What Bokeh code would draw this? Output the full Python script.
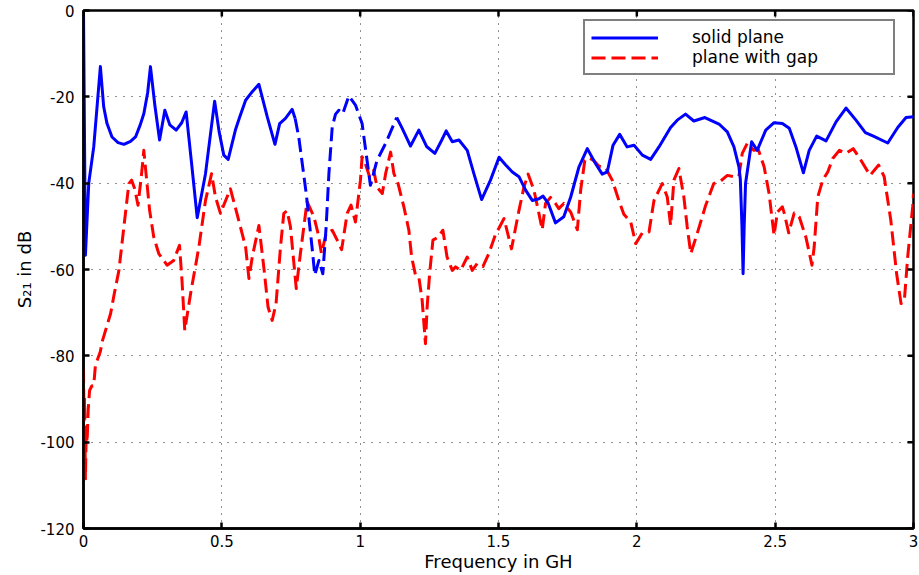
import numpy as np
from bokeh.plotting import figure
from bokeh.models import Range1d, FixedTicker, Legend, LegendItem
from bokeh.embed import file_html
from bokeh.resources import INLINE

# ---------------- data ----------------
freq_solid = [0.000, 0.007, 0.019, 0.037, 0.061, 0.073, 0.085, 0.103, 0.125, 0.146, 0.170, 0.188,
              0.205, 0.218, 0.232, 0.242, 0.258, 0.275, 0.294, 0.312, 0.335, 0.355, 0.371, 0.390,
              0.411, 0.441, 0.474, 0.490, 0.507, 0.523, 0.549, 0.564, 0.586, 0.610, 0.634, 0.664,
              0.692, 0.709, 0.730, 0.754, 0.765, 0.778, 0.805, 0.826, 0.836, 0.851, 0.865, 0.877,
              0.887, 0.899, 0.911, 0.923, 0.937, 0.959, 0.983, 1.007, 1.037, 1.061, 1.092, 1.132,
              1.152, 1.182, 1.212, 1.240, 1.270, 1.295, 1.311, 1.333, 1.357, 1.387, 1.411, 1.439,
              1.471, 1.502, 1.526, 1.550, 1.574, 1.598, 1.622, 1.646, 1.661, 1.680, 1.706, 1.736,
              1.761, 1.791, 1.821, 1.851, 1.875, 1.893, 1.914, 1.938, 1.965, 1.990, 2.020, 2.050,
              2.080, 2.122, 2.146, 2.176, 2.206, 2.246, 2.297, 2.327, 2.351, 2.369, 2.374, 2.380,
              2.384, 2.388, 2.393, 2.415, 2.435, 2.466, 2.496, 2.526, 2.551, 2.575, 2.602, 2.623,
              2.650, 2.684, 2.720, 2.756, 2.792, 2.826, 2.855, 2.907, 2.943, 2.973, 3.000]
s21_solid = [0.0, -56.7, -40.0, -31.6, -13.0, -22.3, -26.2, -29.3, -30.6, -31.0, -30.3, -29.3,
             -26.5, -23.9, -19.0, -13.0, -22.0, -30.0, -23.1, -26.5, -27.7, -26.0, -23.5, -35.0,
             -48.0, -37.8, -21.0, -28.0, -33.5, -34.5, -27.7, -24.8, -20.8, -18.8, -17.1, -24.6,
             -31.0, -26.2, -25.0, -22.9, -25.0, -29.3, -42.4, -54.8, -61.3, -57.9, -61.0, -50.1,
             -37.8, -27.0, -24.0, -23.1, -23.9, -19.8, -21.9, -26.2, -40.5, -34.7, -30.8, -24.8,
             -27.3, -31.4, -27.7, -31.5, -33.1, -30.0, -27.9, -30.4, -30.0, -32.4, -37.8, -43.8,
             -39.3, -34.0, -35.8, -37.4, -38.5, -41.6, -44.0, -43.6, -43.0, -44.7, -49.2, -47.8,
             -43.2, -36.2, -32.0, -35.5, -37.9, -37.4, -31.2, -28.7, -31.6, -31.2, -33.5, -34.5,
             -31.6, -27.1, -25.4, -24.0, -25.6, -24.8, -26.3, -28.1, -31.6, -36.2, -39.0, -50.0,
             -61.0, -50.0, -40.0, -30.4, -32.4, -27.7, -26.0, -26.2, -27.3, -31.6, -37.6, -32.4,
             -29.1, -30.2, -25.8, -22.6, -25.4, -28.3, -29.1, -30.7, -27.1, -24.8, -24.6]

freq_gap = [0.000, 0.002, 0.004, 0.007, 0.010, 0.013, 0.017, 0.022, 0.030, 0.037, 0.043, 0.061,
            0.067, 0.085, 0.098, 0.110, 0.128, 0.146, 0.164, 0.174, 0.185, 0.197, 0.210, 0.218,
            0.226, 0.239, 0.254, 0.272, 0.302, 0.326, 0.347, 0.356, 0.366, 0.387, 0.417, 0.441,
            0.463, 0.477, 0.495, 0.531, 0.561, 0.586, 0.598, 0.610, 0.634, 0.653, 0.667, 0.682,
            0.696, 0.712, 0.724, 0.736, 0.748, 0.769, 0.784, 0.808, 0.833, 0.848, 0.860, 0.877,
            0.899, 0.917, 0.933, 0.953, 0.967, 0.983, 1.001, 1.007, 1.019, 1.034, 1.049, 1.061,
            1.080, 1.092, 1.110, 1.122, 1.137, 1.158, 1.176, 1.186, 1.200, 1.212, 1.224, 1.236,
            1.242, 1.251, 1.263, 1.282, 1.299, 1.314, 1.333, 1.345, 1.363, 1.387, 1.405, 1.423,
            1.444, 1.465, 1.490, 1.501, 1.520, 1.547, 1.574, 1.592, 1.607, 1.628, 1.646, 1.658,
            1.670, 1.688, 1.706, 1.718, 1.736, 1.761, 1.785, 1.797, 1.812, 1.827, 1.845, 1.863,
            1.887, 1.911, 1.935, 1.953, 1.978, 1.996, 2.020, 2.044, 2.062, 2.092, 2.110, 2.122,
            2.134, 2.152, 2.170, 2.182, 2.195, 2.218, 2.249, 2.278, 2.303, 2.327, 2.351, 2.369,
            2.381, 2.399, 2.423, 2.439, 2.460, 2.478, 2.496, 2.508, 2.526, 2.533, 2.549, 2.569,
            2.587, 2.611, 2.633, 2.641, 2.654, 2.672, 2.690, 2.708, 2.732, 2.756, 2.782, 2.810,
            2.843, 2.874, 2.894, 2.918, 2.939, 2.955, 2.967, 2.979, 2.997, 3.000]
s21_gap = [-83.0, -95.0, -90.0, -108.5, -97.0, -100.0, -92.5, -88.0, -87.0, -86.9, -82.2, -79.0,
           -76.8, -73.0, -70.2, -66.0, -60.2, -50.1, -40.1, -39.3, -41.3, -45.1, -37.8, -32.4,
           -37.8, -46.3, -52.5, -56.3, -59.0, -57.9, -54.4, -62.5, -74.1, -65.6, -54.8, -44.0,
           -37.8, -43.2, -47.0, -41.3, -48.6, -54.8, -62.1, -57.1, -49.8, -60.2, -68.7, -71.8,
           -67.9, -54.8, -47.0, -46.4, -50.1, -64.4, -56.3, -44.3, -47.8, -51.7, -56.3, -51.7,
           -50.9, -53.2, -55.4, -47.0, -45.1, -49.0, -39.3, -33.9, -35.5, -38.5, -37.0, -40.9,
           -42.4, -37.8, -32.8, -37.8, -40.1, -45.5, -50.9, -57.1, -61.3, -61.7, -67.1, -77.2,
           -68.7, -61.0, -53.2, -52.5, -50.9, -57.1, -60.2, -59.4, -60.2, -57.1, -60.2, -58.6,
           -59.3, -56.3, -51.7, -50.5, -48.2, -55.2, -46.3, -40.9, -37.9, -41.6, -47.0, -50.8,
           -44.7, -43.3, -44.7, -45.9, -44.7, -46.7, -50.8, -41.6, -34.7, -34.1, -34.8, -36.1,
           -36.4, -39.3, -44.0, -47.2, -49.0, -54.0, -51.5, -51.3, -44.0, -40.1, -43.2, -49.8,
           -39.3, -36.6, -43.2, -50.1, -56.3, -51.7, -45.1, -40.1, -39.5, -38.2, -38.5, -38.4,
           -33.1, -30.8, -32.4, -32.2, -36.2, -42.4, -52.1, -46.7, -45.5, -47.0, -51.5, -46.9,
           -47.8, -52.5, -59.0, -54.8, -43.2, -39.3, -37.4, -34.3, -32.4, -33.1, -32.0, -34.7,
           -38.2, -35.8, -38.5, -48.6, -61.0, -67.9, -67.1, -57.1, -45.5, -42.4]

# frequency span where the solid-plane trace is drawn dashed in the reference
solid_dashed_span = [0.765, 1.132]

x_ticks = [0, 0.5, 1, 1.5, 2, 2.5, 3]
x_tick_labels = ["0", "0.5", "1", "1.5", "2", "2.5", "3"]
y_ticks = [-120, -100, -80, -60, -40, -20, 0]
y_tick_labels = ["-120", "-100", "-80", "-60", "-40", "-20", "0"]

series_labels = ["solid plane", "plane with gap"]
x_label = "Frequency in GH"
y_label = "S\u2082\u2081 in dB"

# ---------------- figure ----------------
FONT = "DejaVu Sans"
x0, x1 = x_ticks[0], x_ticks[-1]
y0, y1 = y_ticks[0], y_ticks[-1]
p = figure(width=919, height=575, x_range=Range1d(x0, x1), y_range=Range1d(y0, y1),
           output_backend="svg", toolbar_location=None,
           min_border_left=83, min_border_right=6, min_border_top=10, min_border_bottom=47)
p.background_fill_color = "white"
p.border_fill_color = "white"
p.outline_line_color = "black"
p.outline_line_width = 2.5

fs = np.array(freq_solid)
ss = np.array(s21_solid)
lo, hi = solid_dashed_span
m1 = fs <= lo
m2 = (fs >= lo) & (fs <= hi)
m3 = fs >= hi

blue = "#0000ff"
red = "#ff0000"
r_red = p.line(freq_gap, s21_gap, line_color=red, line_width=3, line_dash="14 6",
               line_join="round")
r_b1 = p.line(fs[m1], ss[m1], line_color=blue, line_width=3, line_join="round")
r_b2 = p.line(fs[m2], ss[m2], line_color=blue, line_width=3, line_dash="14 6", line_join="round")
r_b3 = p.line(fs[m3], ss[m3], line_color=blue, line_width=3, line_join="round")

# inward tick marks on the top and right edges of the box
p.scatter([x1] * len(y_ticks), y_ticks, marker="dash", size=12, line_color="black",
          line_width=2.5)
p.scatter(x_ticks, [y1] * len(x_ticks), marker="dash", angle=np.pi / 2, size=12,
          line_color="black", line_width=2.5)

# grid
p.xgrid.ticker = FixedTicker(ticks=x_ticks)
p.ygrid.ticker = FixedTicker(ticks=y_ticks)
p.xgrid.grid_line_color = "#222222"
p.ygrid.grid_line_color = "#222222"
p.xgrid.grid_line_dash = "1 6"
p.ygrid.grid_line_dash = "1 7"
p.xgrid.grid_line_width = 1
p.ygrid.grid_line_width = 1

# axes
xax = p.below[0]
yax = p.left[0]
xax.ticker = FixedTicker(ticks=x_ticks)
xax.major_label_overrides = {t: l for t, l in zip(x_ticks, x_tick_labels)}
yax.ticker = FixedTicker(ticks=y_ticks)
yax.major_label_overrides = {t: l for t, l in zip(y_ticks, y_tick_labels)}

for ax in [xax, yax]:
    ax.major_tick_in = 6
    ax.major_tick_out = 0
    ax.minor_tick_in = 0
    ax.minor_tick_out = 0
    ax.axis_line_width = 2.5
    ax.axis_line_color = "black"
    ax.major_tick_line_width = 2.5
    ax.major_tick_line_color = "black"
    ax.major_label_text_font = FONT
    ax.major_label_text_font_size = "15px"
    ax.major_label_text_color = "black"
    ax.axis_label_text_font = FONT
    ax.axis_label_text_font_size = "18px"
    ax.axis_label_text_font_style = "normal"
    ax.axis_label_text_color = "black"

xax.major_label_standoff = 6
yax.major_label_standoff = 9
xax.axis_label = x_label
yax.axis_label = y_label
xax.axis_label_standoff = 1
yax.axis_label_standoff = 2

# legend
legend = Legend(items=[LegendItem(label=series_labels[0], renderers=[r_b1]),
                       LegendItem(label=series_labels[1], renderers=[r_red])],
                location=(500, 453))
legend.label_text_font = FONT
legend.label_text_font_size = "17px"
legend.label_text_color = "black"
legend.glyph_width = 67
legend.glyph_height = 17
legend.label_height = 17
legend.label_standoff = 34
legend.label_width = 195
legend.padding = 6
legend.spacing = 0
legend.margin = 0
legend.border_line_color = "black"
legend.border_line_width = 2.5
legend.background_fill_color = "white"
legend.background_fill_alpha = 1.0
p.add_layout(legend)

open("out.html", "w").write(file_html(p, INLINE))
